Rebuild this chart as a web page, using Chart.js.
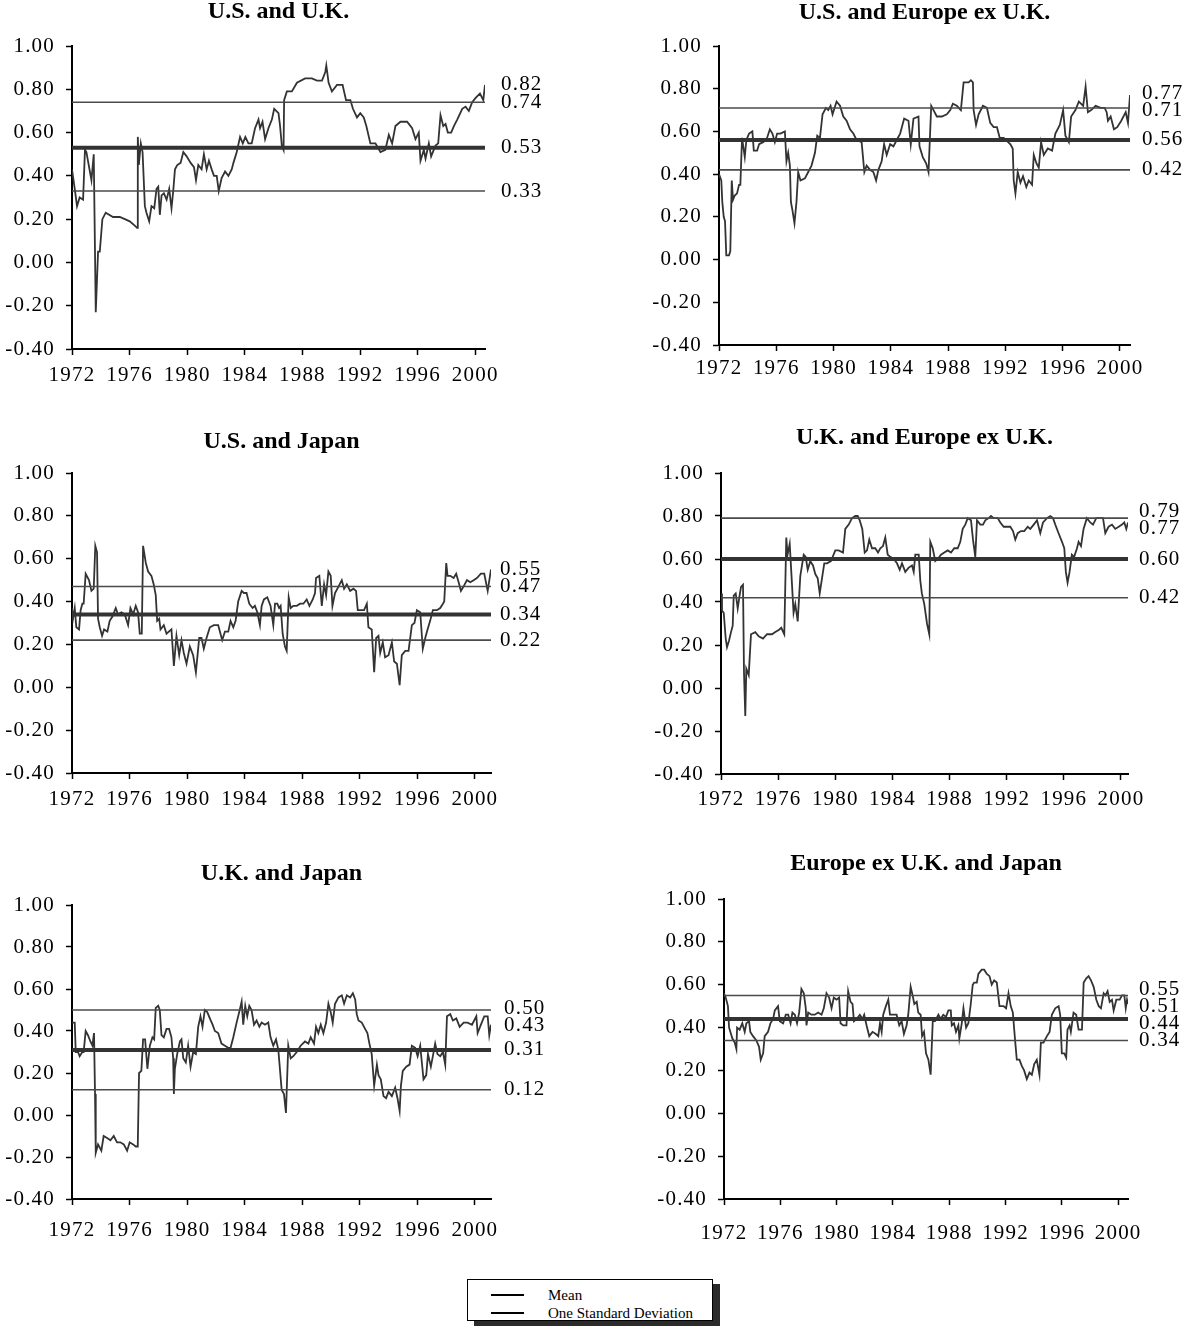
<!DOCTYPE html>
<html>
<head>
<meta charset="utf-8">
<title>Rolling correlations between equity markets, 1972–2000</title>
<script src="https://cdn.jsdelivr.net/npm/chart.js@4.4.1/dist/chart.umd.min.js"></script>
<style>
  html, body { margin: 0; padding: 0; background: #fff; }
  body { width: 1188px; height: 1330px; position: relative; overflow: hidden;
         font-family: 'Liberation Serif', 'Times New Roman', serif; }
  canvas.panel { position: absolute; }
  #legend { position: absolute; left: 467px; top: 1279px; width: 246px; height: 42px;
            box-sizing: border-box; border: 1.5px solid #000; background: #fff;
            box-shadow: 7px 5px 0 #2b2b2b; }
  #legend .row { position: absolute; left: 0; width: 100%; height: 18px; }
  #legend .swatch { position: absolute; left: 23px; width: 33px; top: 8px; height: 2px; background: #000; }
  #legend .lbl { position: absolute; left: 80px; top: 0; font-size: 15px; line-height: 18px; color: #000; white-space: nowrap; }
</style>
</head>
<body>
<div id="legend"></div>
<script>
// ---- axis ticks ----
const yearTicks = [1972, 1976, 1980, 1984, 1988, 1992, 1996, 2000];
const corrTicks = [-0.4, -0.2, 0, 0.2, 0.4, 0.6, 0.8, 1.0];

// ---- panel titles ----
const panelTitles = ['U.S. and U.K.', 'U.S. and Europe ex U.K.', 'U.S. and Japan',
                     'U.K. and Europe ex U.K.', 'U.K. and Japan', 'Europe ex U.K. and Japan'];

// ---- mean and one-standard-deviation band of each correlation series ----
const meanLevels  = [0.53, 0.56, 0.34, 0.60, 0.31, 0.44];
const upperLevels = [0.74, 0.71, 0.47, 0.79, 0.50, 0.55];
const lowerLevels = [0.33, 0.42, 0.22, 0.42, 0.12, 0.34];

// ---- legend ----
const legendLabels = ['Mean', 'One Standard Deviation'];

// ---- rolling correlation series (date in years, correlation) ----
const usUkDates = [1972.00,1972.19,1972.35,1972.53,1972.77,1972.90,1973.00,1973.35,1973.51,1973.65,
  1973.81,1973.93,1974.11,1974.34,1974.85,1975.32,1975.67,1976.01,1976.36,1976.52,
  1976.57,1976.64,1976.78,1976.90,1977.06,1977.17,1977.36,1977.52,1977.71,1977.87,
  1977.99,1978.10,1978.22,1978.38,1978.57,1978.75,1978.91,1979.03,1979.15,1979.31,
  1979.54,1979.73,1979.96,1980.24,1980.47,1980.61,1980.77,1981.00,1981.16,1981.35,
  1981.51,1981.70,1981.86,1982.05,1982.19,1982.39,1982.63,1982.86,1983.09,1983.21,
  1983.44,1983.67,1983.86,1984.04,1984.25,1984.48,1984.71,1984.95,1985.06,1985.23,
  1985.41,1985.64,1985.88,1986.04,1986.34,1986.45,1986.57,1986.69,1986.73,1986.92,
  1987.27,1987.62,1988.19,1988.66,1989.01,1989.36,1989.59,1989.66,1989.82,1990.05,
  1990.40,1990.79,1991.03,1991.33,1991.51,1991.79,1992.02,1992.26,1992.44,1992.72,
  1993.07,1993.42,1993.76,1994.00,1994.23,1994.46,1994.81,1995.27,1995.62,1995.85,
  1996.08,1996.20,1996.43,1996.55,1996.78,1996.94,1997.24,1997.43,1997.59,1997.78,
  1997.94,1998.10,1998.33,1998.52,1998.75,1999.10,1999.33,1999.56,1999.79,2000.03,
  2000.33,2000.56,2000.68];
const usUkCorr = [0.43,0.34,0.26,0.30,0.29,0.52,0.51,0.38,0.50,-0.23,
  0.05,0.05,0.20,0.23,0.21,0.21,0.20,0.19,0.17,0.16,
  0.58,0.45,0.55,0.51,0.26,0.23,0.19,0.26,0.25,0.34,
  0.35,0.22,0.31,0.32,0.29,0.34,0.25,0.33,0.43,0.45,
  0.46,0.51,0.49,0.46,0.44,0.38,0.45,0.43,0.50,0.43,
  0.47,0.43,0.40,0.40,0.33,0.39,0.42,0.40,0.43,0.46,
  0.51,0.58,0.55,0.58,0.55,0.55,0.62,0.66,0.62,0.65,
  0.57,0.62,0.66,0.71,0.69,0.63,0.54,0.52,0.75,0.79,
  0.79,0.83,0.85,0.85,0.84,0.84,0.88,0.91,0.83,0.79,
  0.82,0.82,0.75,0.75,0.71,0.67,0.69,0.67,0.63,0.55,
  0.55,0.51,0.52,0.59,0.55,0.63,0.65,0.65,0.62,0.57,
  0.60,0.47,0.52,0.48,0.55,0.49,0.54,0.55,0.68,0.63,
  0.64,0.60,0.60,0.63,0.66,0.71,0.72,0.70,0.74,0.76,
  0.78,0.75,0.82];

const usEuDates = [1972.00,1972.16,1972.23,1972.33,1972.42,1972.51,1972.70,1972.79,1972.89,1972.98,
  1973.10,1973.26,1973.40,1973.49,1973.61,1973.80,1973.91,1974.10,1974.33,1974.43,
  1974.66,1974.80,1975.08,1975.31,1975.55,1975.73,1975.90,1976.06,1976.29,1976.60,
  1976.71,1976.83,1976.95,1977.02,1977.13,1977.27,1977.41,1977.53,1977.69,1978.00,
  1978.23,1978.46,1978.70,1978.86,1979.05,1979.23,1979.47,1979.63,1979.79,1979.93,
  1980.21,1980.45,1980.68,1980.91,1981.15,1981.38,1981.61,1981.96,1982.15,1982.31,
  1982.55,1982.78,1982.97,1983.13,1983.36,1983.53,1983.71,1983.95,1984.18,1984.41,
  1984.65,1984.93,1985.23,1985.39,1985.58,1985.93,1986.00,1986.23,1986.47,1986.63,
  1986.82,1986.98,1987.21,1987.56,1987.91,1988.15,1988.33,1988.61,1988.89,1989.08,
  1989.43,1989.59,1989.73,1989.78,1989.95,1990.13,1990.43,1990.71,1990.94,1991.18,
  1991.41,1991.60,1991.88,1992.35,1992.51,1992.58,1992.70,1992.86,1993.05,1993.23,
  1993.46,1993.63,1993.86,1993.98,1994.17,1994.33,1994.49,1994.68,1994.96,1995.26,
  1995.49,1995.80,1996.03,1996.19,1996.43,1996.59,1996.89,1997.13,1997.43,1997.60,
  1997.76,1997.99,1998.30,1998.65,1998.93,1999.07,1999.16,1999.35,1999.58,1999.81,
  2000.09,2000.40,2000.56,2000.70];
const usEuCorr = [0.40,0.37,0.27,0.20,0.18,0.02,0.02,0.04,0.37,0.28,
  0.30,0.31,0.35,0.35,0.57,0.48,0.56,0.59,0.60,0.51,
  0.51,0.54,0.55,0.56,0.61,0.59,0.55,0.59,0.59,0.60,
  0.46,0.50,0.44,0.27,0.23,0.17,0.27,0.41,0.37,0.38,
  0.41,0.44,0.50,0.58,0.57,0.68,0.71,0.70,0.72,0.68,
  0.74,0.72,0.67,0.65,0.61,0.59,0.56,0.55,0.41,0.44,
  0.42,0.41,0.37,0.42,0.46,0.54,0.49,0.54,0.53,0.56,
  0.59,0.66,0.65,0.54,0.66,0.67,0.53,0.48,0.45,0.41,
  0.72,0.70,0.67,0.67,0.68,0.70,0.73,0.72,0.70,0.83,
  0.83,0.84,0.83,0.70,0.63,0.68,0.72,0.71,0.64,0.62,
  0.62,0.57,0.57,0.54,0.52,0.37,0.31,0.41,0.36,0.39,
  0.34,0.37,0.35,0.49,0.45,0.43,0.55,0.49,0.52,0.51,
  0.59,0.63,0.70,0.58,0.55,0.67,0.70,0.74,0.72,0.81,
  0.69,0.70,0.72,0.71,0.71,0.69,0.65,0.67,0.61,0.62,
  0.65,0.69,0.64,0.77];

const usJpDates = [1972.00,1972.07,1972.19,1972.30,1972.49,1972.60,1972.72,1972.81,1972.95,1973.18,
  1973.35,1973.51,1973.62,1973.74,1973.81,1973.93,1974.09,1974.23,1974.46,1974.62,
  1974.81,1975.04,1975.20,1975.43,1975.67,1975.90,1976.06,1976.25,1976.43,1976.59,
  1976.71,1976.85,1976.94,1977.13,1977.29,1977.52,1977.68,1977.82,1977.92,1978.06,
  1978.15,1978.38,1978.57,1978.91,1979.08,1979.26,1979.45,1979.61,1979.77,1979.96,
  1980.19,1980.42,1980.61,1980.84,1981.00,1981.16,1981.35,1981.58,1981.86,1982.16,
  1982.44,1982.63,1982.86,1983.02,1983.21,1983.37,1983.55,1983.79,1983.95,1984.13,
  1984.32,1984.55,1984.71,1984.88,1985.06,1985.18,1985.34,1985.57,1985.80,1985.99,
  1986.11,1986.27,1986.39,1986.50,1986.64,1986.80,1986.92,1987.06,1987.20,1987.38,
  1987.62,1987.85,1988.08,1988.31,1988.50,1988.73,1988.89,1988.96,1989.19,1989.36,
  1989.52,1989.66,1989.82,1989.98,1990.10,1990.28,1990.52,1990.75,1990.91,1991.10,
  1991.33,1991.56,1991.74,1991.86,1992.07,1992.30,1992.49,1992.60,1992.83,1993.00,
  1993.14,1993.30,1993.42,1993.60,1993.76,1994.00,1994.23,1994.39,1994.58,1994.77,
  1994.92,1995.16,1995.39,1995.62,1995.80,1995.97,1996.20,1996.38,1996.55,1996.71,
  1996.89,1997.08,1997.36,1997.59,1997.78,1997.87,1998.01,1998.10,1998.29,1998.52,
  1998.70,1998.87,1999.03,1999.21,1999.45,1999.68,1999.91,2000.14,2000.42,2000.65,
  2000.89,2001.12];
const usJpCorr = [0.37,0.32,0.37,0.28,0.27,0.36,0.39,0.39,0.53,0.50,
  0.45,0.46,0.66,0.63,0.32,0.28,0.24,0.27,0.26,0.31,
  0.33,0.37,0.34,0.35,0.34,0.29,0.37,0.34,0.38,0.35,
  0.25,0.25,0.66,0.58,0.54,0.52,0.48,0.43,0.31,0.32,
  0.27,0.29,0.25,0.27,0.10,0.24,0.15,0.22,0.16,0.11,
  0.19,0.15,0.07,0.23,0.23,0.18,0.23,0.28,0.29,0.29,
  0.22,0.26,0.26,0.31,0.28,0.31,0.40,0.45,0.44,0.44,
  0.39,0.37,0.38,0.35,0.29,0.38,0.41,0.42,0.38,0.29,
  0.39,0.39,0.37,0.38,0.25,0.19,0.17,0.42,0.37,0.38,
  0.38,0.39,0.39,0.41,0.38,0.41,0.44,0.51,0.52,0.38,
  0.48,0.43,0.54,0.52,0.38,0.44,0.47,0.50,0.46,0.48,
  0.45,0.46,0.45,0.36,0.36,0.36,0.39,0.28,0.27,0.07,
  0.23,0.24,0.16,0.21,0.14,0.15,0.21,0.12,0.11,0.01,
  0.15,0.17,0.17,0.29,0.30,0.36,0.35,0.18,0.23,0.27,
  0.31,0.36,0.36,0.37,0.39,0.40,0.58,0.52,0.52,0.51,
  0.53,0.49,0.45,0.47,0.50,0.49,0.50,0.51,0.53,0.53,
  0.45,0.55];

const ukEuDates = [1972.00,1972.07,1972.19,1972.33,1972.42,1972.56,1972.70,1972.82,1972.89,1973.03,
  1973.17,1973.28,1973.40,1973.54,1973.61,1973.70,1973.77,1973.94,1974.10,1974.40,
  1974.64,1974.94,1975.22,1975.57,1975.80,1976.04,1976.22,1976.43,1976.57,1976.66,
  1976.81,1976.92,1977.08,1977.20,1977.37,1977.55,1977.79,1977.93,1978.07,1978.25,
  1978.44,1978.60,1978.77,1978.91,1979.07,1979.23,1979.42,1979.70,1980.00,1980.24,
  1980.54,1980.70,1980.94,1981.17,1981.40,1981.57,1981.71,1981.89,1982.06,1982.22,
  1982.38,1982.57,1982.80,1982.99,1983.15,1983.34,1983.50,1983.67,1983.85,1984.09,
  1984.32,1984.51,1984.67,1984.90,1985.14,1985.37,1985.49,1985.60,1985.84,1985.95,
  1986.06,1986.23,1986.42,1986.58,1986.65,1986.82,1987.00,1987.17,1987.40,1987.63,
  1987.87,1988.10,1988.33,1988.57,1988.75,1988.92,1989.10,1989.27,1989.50,1989.64,
  1989.80,1989.92,1990.15,1990.34,1990.50,1990.74,1990.90,1991.09,1991.37,1991.55,
  1991.79,1991.97,1992.25,1992.44,1992.60,1992.77,1993.00,1993.23,1993.47,1993.65,
  1993.89,1994.12,1994.35,1994.54,1994.82,1995.05,1995.24,1995.40,1995.63,1995.87,
  1996.03,1996.14,1996.26,1996.40,1996.56,1996.72,1996.92,1997.03,1997.20,1997.38,
  1997.61,1997.85,1998.04,1998.27,1998.50,1998.74,1998.90,1999.13,1999.37,1999.60,
  1999.84,2000.07,2000.23,2000.37,2000.49];
const ukEuCorr = [0.44,0.36,0.35,0.23,0.19,0.22,0.26,0.29,0.43,0.44,
  0.37,0.42,0.47,0.48,0.07,-0.13,0.09,0.06,0.25,0.26,
  0.24,0.23,0.25,0.25,0.26,0.27,0.28,0.25,0.70,0.62,
  0.67,0.54,0.35,0.39,0.31,0.52,0.62,0.61,0.55,0.59,
  0.57,0.53,0.51,0.44,0.51,0.58,0.58,0.59,0.64,0.64,
  0.63,0.74,0.76,0.79,0.80,0.80,0.78,0.74,0.63,0.64,
  0.69,0.65,0.65,0.63,0.65,0.66,0.70,0.62,0.61,0.60,
  0.58,0.55,0.58,0.54,0.56,0.57,0.54,0.62,0.62,0.50,
  0.44,0.39,0.30,0.25,0.68,0.65,0.59,0.60,0.62,0.63,
  0.64,0.63,0.65,0.65,0.68,0.74,0.76,0.79,0.78,0.69,
  0.61,0.78,0.76,0.76,0.78,0.79,0.80,0.79,0.79,0.77,
  0.75,0.75,0.75,0.73,0.69,0.72,0.73,0.73,0.75,0.74,
  0.76,0.78,0.72,0.77,0.79,0.80,0.79,0.76,0.72,0.68,
  0.65,0.54,0.49,0.54,0.62,0.61,0.65,0.68,0.66,0.74,
  0.79,0.77,0.76,0.79,0.79,0.79,0.72,0.75,0.76,0.74,
  0.75,0.76,0.77,0.74,0.77];

const ukJpDates = [1972.00,1972.19,1972.26,1972.42,1972.53,1972.72,1972.81,1972.95,1973.11,1973.28,
  1973.42,1973.53,1973.60,1973.65,1973.81,1974.04,1974.20,1974.44,1974.67,1974.90,
  1975.13,1975.36,1975.60,1975.83,1976.01,1976.25,1976.43,1976.57,1976.66,1976.82,
  1976.94,1977.08,1977.24,1977.41,1977.59,1977.71,1977.82,1977.99,1978.10,1978.22,
  1978.38,1978.57,1978.75,1978.91,1979.03,1979.08,1979.15,1979.31,1979.50,1979.61,
  1979.73,1979.91,1980.07,1980.24,1980.42,1980.61,1980.77,1980.93,1981.07,1981.23,
  1981.40,1981.58,1981.77,1981.93,1982.16,1982.39,1982.63,1982.86,1983.02,1983.21,
  1983.44,1983.62,1983.79,1983.90,1984.04,1984.18,1984.32,1984.48,1984.65,1984.83,
  1985.02,1985.18,1985.41,1985.64,1985.80,1985.99,1986.18,1986.34,1986.57,1986.73,
  1986.87,1987.03,1987.20,1987.38,1987.62,1987.89,1988.19,1988.43,1988.59,1988.82,
  1988.96,1989.12,1989.29,1989.47,1989.66,1989.82,1989.98,1990.12,1990.28,1990.52,
  1990.75,1990.91,1991.10,1991.33,1991.52,1991.68,1991.79,1991.91,1992.14,1992.37,
  1992.53,1992.67,1992.83,1993.00,1993.19,1993.30,1993.46,1993.65,1993.83,1994.00,
  1994.23,1994.46,1994.62,1994.77,1994.86,1994.99,1995.23,1995.46,1995.62,1995.85,
  1996.02,1996.20,1996.43,1996.62,1996.74,1996.94,1997.08,1997.24,1997.40,1997.59,
  1997.78,1997.94,1998.06,1998.29,1998.47,1998.71,1998.94,1999.22,1999.49,1999.80,
  2000.10,2000.19,2000.42,2000.65,2000.89,2001.00,2001.12];
const ukJpCorr = [0.44,0.44,0.30,0.30,0.28,0.30,0.30,0.40,0.38,0.35,
  0.33,0.39,0.10,-0.18,-0.14,-0.17,-0.10,-0.11,-0.12,-0.10,
  -0.13,-0.13,-0.14,-0.17,-0.13,-0.14,-0.15,-0.15,0.20,0.21,
  0.36,0.36,0.22,0.33,0.37,0.36,0.51,0.52,0.50,0.38,
  0.37,0.41,0.41,0.37,0.27,0.10,0.22,0.29,0.35,0.36,
  0.27,0.25,0.33,0.23,0.30,0.29,0.42,0.47,0.42,0.50,
  0.49,0.46,0.43,0.40,0.39,0.34,0.33,0.32,0.32,0.37,
  0.44,0.49,0.54,0.43,0.52,0.47,0.52,0.50,0.43,0.45,
  0.42,0.44,0.43,0.44,0.37,0.33,0.36,0.31,0.12,0.10,
  0.01,0.33,0.27,0.28,0.30,0.33,0.35,0.34,0.37,0.34,
  0.42,0.39,0.43,0.39,0.44,0.53,0.49,0.44,0.53,0.56,
  0.57,0.53,0.57,0.56,0.58,0.55,0.48,0.45,0.44,0.41,
  0.39,0.34,0.29,0.14,0.24,0.19,0.17,0.09,0.08,0.11,
  0.09,0.13,0.08,0.02,0.14,0.21,0.23,0.24,0.33,0.32,
  0.28,0.33,0.17,0.19,0.29,0.23,0.28,0.34,0.29,0.28,
  0.30,0.24,0.47,0.48,0.45,0.46,0.42,0.44,0.44,0.43,
  0.47,0.39,0.43,0.47,0.47,0.38,0.43];

const euJpDates = [1972.00,1972.12,1972.28,1972.36,1972.45,1972.59,1972.76,1972.88,1972.93,1973.11,
  1973.30,1973.47,1973.59,1973.78,1973.87,1974.06,1974.30,1974.49,1974.61,1974.78,
  1974.89,1975.13,1975.30,1975.49,1975.61,1975.84,1975.96,1976.20,1976.39,1976.56,
  1976.73,1976.86,1977.03,1977.19,1977.34,1977.50,1977.67,1977.81,1977.86,1977.98,
  1978.21,1978.45,1978.69,1978.93,1979.09,1979.28,1979.47,1979.64,1979.80,1979.99,
  1980.18,1980.28,1980.47,1980.70,1980.82,1980.99,1981.13,1981.23,1981.42,1981.65,
  1981.84,1981.96,1982.13,1982.32,1982.55,1982.79,1982.96,1983.08,1983.20,1983.31,
  1983.50,1983.67,1983.79,1984.03,1984.26,1984.45,1984.62,1984.78,1984.97,1985.09,
  1985.26,1985.40,1985.52,1985.69,1985.80,1985.97,1986.07,1986.21,1986.35,1986.52,
  1986.68,1986.83,1986.99,1987.23,1987.39,1987.58,1987.77,1987.94,1988.11,1988.18,
  1988.34,1988.48,1988.65,1988.72,1988.89,1989.01,1989.20,1989.36,1989.53,1989.67,
  1989.77,1989.96,1990.07,1990.31,1990.48,1990.67,1990.86,1991.02,1991.19,1991.38,
  1991.57,1991.85,1992.04,1992.21,1992.37,1992.52,1992.68,1992.80,1992.99,1993.16,
  1993.32,1993.51,1993.70,1993.87,1994.04,1994.22,1994.41,1994.51,1994.70,1994.94,
  1995.13,1995.29,1995.53,1995.77,1995.88,1996.00,1996.17,1996.31,1996.40,1996.55,
  1996.64,1996.83,1997.02,1997.19,1997.43,1997.55,1997.74,1997.90,1998.07,1998.26,
  1998.45,1998.62,1998.78,1998.97,1999.09,1999.25,1999.40,1999.56,1999.68,1999.87,
  2000.11,2000.27,2000.44,2000.54,2000.63,2000.70];
const euJpCorr = [0.56,0.54,0.50,0.40,0.38,0.35,0.33,0.30,0.40,0.39,
  0.42,0.38,0.42,0.43,0.38,0.36,0.34,0.31,0.25,0.28,
  0.36,0.38,0.42,0.44,0.48,0.50,0.43,0.42,0.46,0.46,
  0.42,0.47,0.46,0.42,0.47,0.58,0.56,0.49,0.41,0.47,
  0.46,0.46,0.47,0.46,0.49,0.56,0.54,0.49,0.54,0.53,
  0.54,0.42,0.41,0.41,0.57,0.52,0.51,0.43,0.44,0.46,
  0.44,0.46,0.41,0.36,0.38,0.37,0.36,0.42,0.38,0.46,
  0.50,0.53,0.46,0.46,0.46,0.41,0.43,0.37,0.41,0.46,
  0.59,0.55,0.51,0.52,0.47,0.46,0.36,0.38,0.28,0.25,
  0.18,0.43,0.43,0.46,0.44,0.46,0.45,0.48,0.48,0.41,
  0.42,0.38,0.41,0.35,0.42,0.49,0.40,0.42,0.51,0.60,
  0.61,0.61,0.65,0.67,0.67,0.65,0.64,0.60,0.62,0.61,
  0.50,0.50,0.49,0.56,0.50,0.47,0.34,0.25,0.25,0.22,
  0.20,0.16,0.19,0.18,0.23,0.25,0.18,0.33,0.33,0.36,
  0.38,0.46,0.49,0.50,0.46,0.28,0.28,0.26,0.39,0.41,
  0.38,0.47,0.46,0.39,0.39,0.61,0.63,0.64,0.62,0.59,
  0.53,0.50,0.49,0.56,0.55,0.57,0.52,0.53,0.48,0.53,
  0.53,0.55,0.55,0.49,0.53,0.51];

const seriesDates = [usUkDates, usEuDates, usJpDates, ukEuDates, ukJpDates, euJpDates];
const seriesCorr  = [usUkCorr,  usEuCorr,  usJpCorr,  ukEuCorr,  ukJpCorr,  euJpCorr];

// ---- page layout: plot-area box of each panel (page pixels) ----
const panelBoxes = [
  { left: 72,  right: 485,  top: 46,  bottom: 349,  titleRise: 34, labelGap: 16, yearGap: 8 },
  { left: 719, right: 1130, top: 46,  bottom: 345,  titleRise: 33, labelGap: 12, yearGap: 5 },
  { left: 72,  right: 491,  top: 473, bottom: 773,  titleRise: 31, labelGap: 9,  yearGap: 8 },
  { left: 721, right: 1128, top: 473, bottom: 774,  titleRise: 35, labelGap: 11, yearGap: 7 },
  { left: 72,  right: 491,  top: 905, bottom: 1199, titleRise: 31, labelGap: 13, yearGap: 13 },
  { left: 724, right: 1128, top: 899, bottom: 1199, titleRise: 35, labelGap: 11, yearGap: 16 }
];

const SERIF = "'Liberation Serif', 'Times New Roman', serif";
const PAD_TOP = 50, PAD_RIGHT = 75, AXIS_W = 70, AXIS_H = 52;

// Title above each plot and the value labels at its right edge
const panelDecor = {
  id: 'panelDecor',
  beforeDraw(chart) {
    chart.ctx.letterSpacing = '1.2px';
  },
  afterDraw(chart, args, opts) {
    const { ctx, chartArea } = chart;
    const yScale = chart.scales.y;
    const i = opts.index;
    const corr = seriesCorr[i];
    const values = [corr[corr.length - 1], upperLevels[i], meanLevels[i], lowerLevels[i]];
    const items = values.map(v => ({ v, y: yScale.getPixelForValue(v) }))
                        .sort((a, b) => a.y - b.y);
    const gap = 17;
    for (let it = 0; it < 60; it++) {
      let moved = false;
      for (let k = 0; k < items.length - 1; k++) {
        const d = items[k + 1].y - items[k].y;
        if (d < gap - 0.01) {
          const s = (gap - d) / 2;
          items[k].y -= s; items[k + 1].y += s; moved = true;
        }
      }
      if (!moved) break;
    }
    ctx.save();
    ctx.letterSpacing = '1.2px';
    ctx.font = '21px ' + SERIF;
    ctx.fillStyle = '#000';
    ctx.textAlign = 'left';
    ctx.textBaseline = 'middle';
    items.forEach(it => ctx.fillText(it.v.toFixed(2), chartArea.right + opts.labelGap, it.y));

    ctx.letterSpacing = '0px';
    ctx.font = 'bold 24px ' + SERIF;
    ctx.textAlign = 'center';
    ctx.fillText(panelTitles[i], (chartArea.left + chartArea.right) / 2, chartArea.top - opts.titleRise);
    ctx.restore();
  }
};

function axisGrid() {
  return { display: true, drawOnChartArea: false, drawTicks: true, tickLength: 6,
           tickWidth: 1.5, tickColor: '#000', color: '#000' };
}

function makePanel(i) {
  const g = panelBoxes[i];
  const w = (g.right - g.left) + AXIS_W + PAD_RIGHT;
  const h = (g.bottom - g.top) + PAD_TOP + AXIS_H;
  const canvas = document.createElement('canvas');
  canvas.className = 'panel';
  canvas.width = w; canvas.height = h;
  canvas.style.width = w + 'px'; canvas.style.height = h + 'px';
  canvas.style.left = (g.left - AXIS_W) + 'px';
  canvas.style.top = (g.top - PAD_TOP) + 'px';
  document.body.appendChild(canvas);

  const dates = seriesDates[i], corr = seriesCorr[i];
  const n = Math.min(dates.length, corr.length);
  const points = [];
  for (let k = 0; k < n; k++) points.push({ x: dates[k], y: corr[k] });
  const x0 = dates[0], x1 = dates[n - 1];
  const level = v => [{ x: x0, y: v }, { x: x1, y: v }];

  new Chart(canvas, {
    type: 'line',
    data: {
      datasets: [
        { label: 'Mean', data: level(meanLevels[i]), borderColor: '#333', borderWidth: 4, order: 0 },
        { label: 'One Standard Deviation', data: level(upperLevels[i]), borderColor: '#4a4a4a', borderWidth: 1.6, order: 0 },
        { label: 'One Standard Deviation', data: level(lowerLevels[i]), borderColor: '#4a4a4a', borderWidth: 1.6, order: 0 },
        { label: panelTitles[i], data: points, borderColor: '#333', borderWidth: 1.8, order: 1 }
      ]
    },
    options: {
      responsive: false,
      animation: false,
      devicePixelRatio: 1,
      elements: { point: { radius: 0, hoverRadius: 0 }, line: { tension: 0, fill: false } },
      layout: { padding: { top: PAD_TOP, right: PAD_RIGHT, left: 0, bottom: 0 } },
      plugins: {
        legend: { display: false },
        tooltip: { enabled: false },
        title: { display: false },
        panelDecor: { index: i, titleRise: g.titleRise, labelGap: g.labelGap }
      },
      scales: {
        x: {
          type: 'linear', min: x0, max: x1,
          afterFit(s) { s.height = AXIS_H; },
          afterBuildTicks(s) { s.ticks = yearTicks.map(v => ({ value: v })); },
          ticks: { autoSkip: false, maxRotation: 0, padding: g.yearGap, color: '#000',
                   font: { family: SERIF, size: 21 }, callback: v => String(v) },
          grid: axisGrid(),
          border: { display: true, color: '#000', width: 2 }
        },
        y: {
          type: 'linear', min: -0.4, max: 1.0,
          afterFit(s) { s.width = AXIS_W; },
          afterBuildTicks(s) { s.ticks = corrTicks.map(v => ({ value: v })); },
          ticks: { padding: 11, color: '#000', font: { family: SERIF, size: 21 },
                   callback: v => Number(v).toFixed(2) },
          grid: axisGrid(),
          border: { display: true, color: '#000', width: 2 }
        }
      }
    },
    plugins: [panelDecor]
  });
}

for (let i = 0; i < panelBoxes.length; i++) makePanel(i);

// shared legend
const legend = document.getElementById('legend');
legendLabels.forEach((txt, k) => {
  const row = document.createElement('div');
  row.className = 'row';
  row.style.top = (6 + k * 18) + 'px';
  row.innerHTML = '<span class="swatch"></span><span class="lbl"></span>';
  row.querySelector('.lbl').textContent = txt;
  legend.appendChild(row);
});
</script>
</body>
</html>
